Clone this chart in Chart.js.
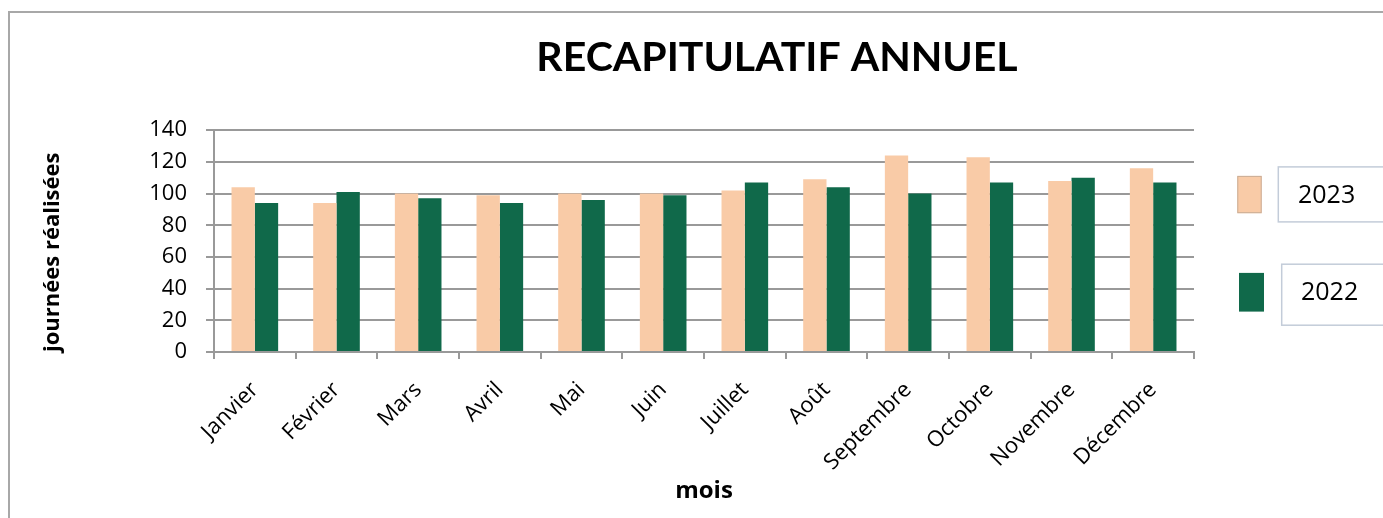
<!DOCTYPE html>
<html lang="fr">
<head>
<meta charset="utf-8">
<title>Récapitulatif annuel</title>
<script src="https://cdn.jsdelivr.net/npm/chart.js@4.4.0/dist/chart.umd.min.js"></script>
<style>
    html, body { margin: 0; padding: 0; background: #fff; overflow: hidden; }
    body { width: 1383px; height: 518px; position: relative; }
    .frame {
        position: absolute; left: 8px; top: 11px;
        border-left: 2px solid #a8a8a8; border-top: 2px solid #a8a8a8;
        width: 1534px; height: 520px;
    }
    .box { position: relative; width: 1534px; height: 506px; }
</style>
</head>
<body>
<div class="frame">
    <div class="box"><canvas id="recap-chart"></canvas></div>
</div>
<script>
// Data
const months = ['Janvier', 'Février', 'Mars', 'Avril', 'Mai', 'Juin',
    'Juillet', 'Août', 'Septembre', 'Octobre', 'Novembre', 'Décembre'];
const seriesLabels = ['2023', '2022'];
const values2023 = [104, 94, 100, 99, 100, 100, 102, 109, 124, 123, 108, 116];
const values2022 = [94, 101, 97, 94, 96, 99, 107, 104, 100, 107, 110, 107];
const yTicks = [0, 20, 40, 60, 80, 100, 120, 140];

const peach = '#f9cba7';
const green = '#10694a';
const gridGray = '#999999';

Chart.defaults.font.family = '"Open Sans"';
Chart.defaults.color = '#000';

// Legend drawn next to the plot, each label inside a light box
const boxedLegend = {
    id: 'boxedLegend',
    afterDraw(chart) {
        const { ctx, chartArea } = chart;
        const slots = [
            { sw: [43.3, 45.7, 24.4, 37.3], box: [84.3, 36.7, 55], text: [104, 65.7] },
            { sw: [45, 142.7, 25, 38.7], box: [87.7, 134, 61], text: [107, 162.4] }
        ];
        ctx.save();
        chart.data.datasets.forEach((ds, i) => {
            const s = slots[i];
            const x0 = chartArea.right, y0 = chartArea.top;
            ctx.fillStyle = ds.backgroundColor;
            ctx.fillRect(x0 + s.sw[0], y0 + s.sw[1], s.sw[2], s.sw[3]);
            if (i === 0) {
                ctx.strokeStyle = '#c9ad97';
                ctx.lineWidth = 1;
                ctx.strokeRect(x0 + s.sw[0] + 0.5, y0 + s.sw[1] + 0.5, s.sw[2] - 1, s.sw[3] - 1);
            }
            ctx.strokeStyle = '#c3ccd9';
            ctx.lineWidth = 1.5;
            ctx.strokeRect(x0 + s.box[0], y0 + s.box[1], 200, s.box[2]);
            ctx.fillStyle = '#000';
            ctx.font = '25px "Open Sans"';
            ctx.textAlign = 'left';
            ctx.textBaseline = 'middle';
            ctx.fillText(ds.label, x0 + s.text[0], y0 + s.text[1]);
        });
        ctx.restore();
    }
};

const ctx = document.getElementById('recap-chart').getContext('2d');
const recapChart = new Chart(ctx, {
    type: 'bar',
    data: {
        labels: months,
        datasets: [
            { label: seriesLabels[0], data: values2023, backgroundColor: peach },
            { label: seriesLabels[1], data: values2022, backgroundColor: green }
        ]
    },
    options: {
        responsive: true,
        maintainAspectRatio: false,
        animation: false,
        devicePixelRatio: 1,
        layout: { padding: 0 },
        datasets: { bar: { categoryPercentage: 0.571, barPercentage: 1.0 } },
        scales: {
            x: {
                afterFit: scale => { scale.height = 167; },
                grid: { offset: true, drawOnChartArea: false, drawTicks: true, tickLength: 7, color: gridGray, lineWidth: 2 },
                border: { color: gridGray, width: 2 },
                ticks: { font: { size: 22 }, color: '#000', minRotation: 45, maxRotation: 45, padding: 18, autoSkip: false },
                title: { display: true, text: 'mois', font: { size: 24, weight: 'bold' }, color: '#000', padding: { top: 0, bottom: 13 } }
            },
            y: {
                min: 0, max: 140,
                afterFit: scale => { scale.width = 204; },
                afterBuildTicks: scale => { scale.ticks = yTicks.map(v => ({ value: v })); },
                grid: { drawTicks: true, tickLength: 8, color: gridGray, lineWidth: 2 },
                border: { color: gridGray, width: 2 },
                ticks: { font: { size: 22 }, color: '#000', padding: 19 },
                title: { display: true, text: 'journées réalisées', align: 'start', font: { size: 22, weight: 'bold' }, color: '#000', padding: { top: 30, bottom: 0 } }
            },
            // empty right-hand area that leaves room for the legend
            legendSpace: {
                axis: 'y', position: 'right', display: true,
                afterFit: scale => { scale.width = 350; },
                grid: { display: false }, border: { display: false }, ticks: { display: false }
            }
        },
        plugins: {
            legend: { display: false },
            tooltip: { enabled: false },
            title: {
                display: true,
                text: 'RECAPITULATIF ANNUEL',
                font: { family: 'Lato', size: 41, weight: 'bold' },
                color: '#000',
                padding: { top: 20, bottom: 48 }
            }
        }
    },
    plugins: [boxedLegend]
});
</script>
</body>
</html>
